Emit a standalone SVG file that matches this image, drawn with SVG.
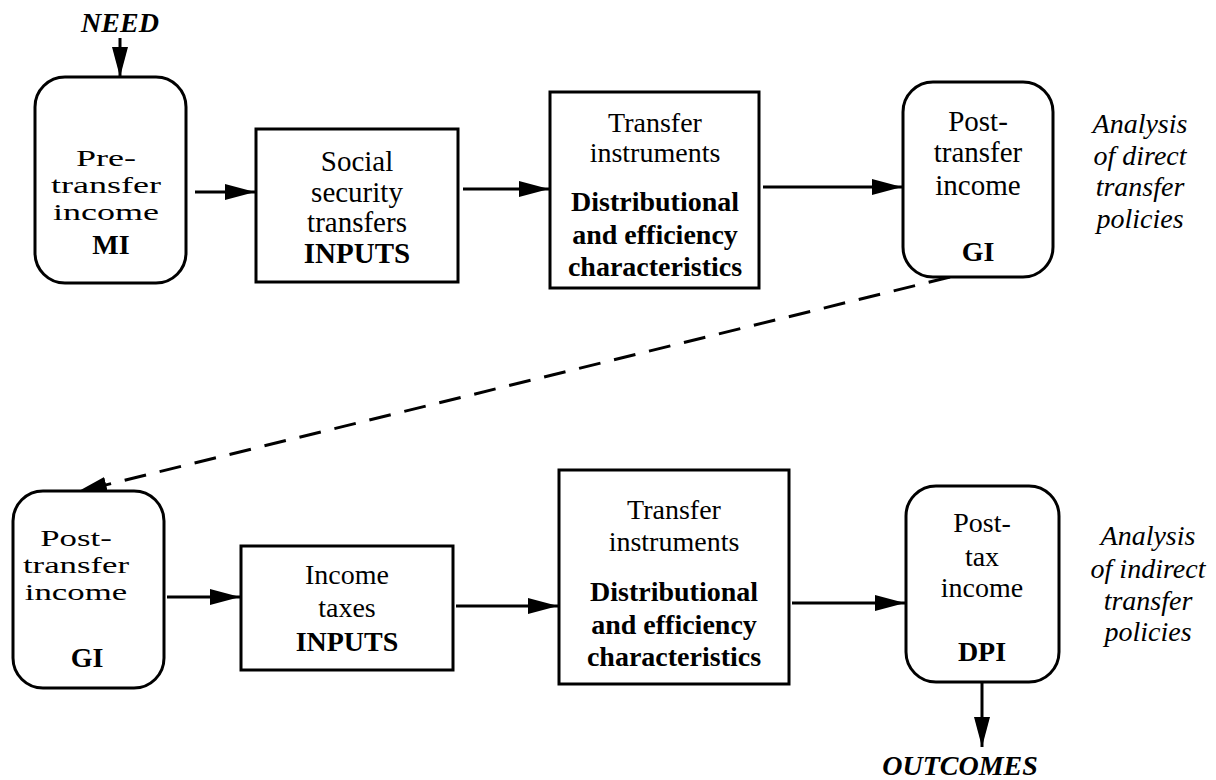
<svg xmlns="http://www.w3.org/2000/svg" width="1216" height="780" viewBox="0 0 1216 780">
<defs>
<marker id="ah" markerUnits="userSpaceOnUse" markerWidth="32" markerHeight="18" refX="30" refY="8" orient="auto">
<path d="M0,0 L30,8 L0,16 Z" fill="#000"/>
</marker>
<style>
.box{fill:#fff;stroke:#000;stroke-width:3}
.t{font-family:"Liberation Serif","Times New Roman",serif;font-size:28px;text-anchor:middle;fill:#000}
.s{font-size:24px}
.l{font-size:29px}
.b{font-weight:bold}
.i{font-style:italic}
.c{stroke:#000;stroke-width:3;fill:none;marker-end:url(#ah)}
.d{stroke-dasharray:22 14}
</style>
</defs>
<rect width="1216" height="780" fill="#fff"/>
<g id="connectors">
<line class="c" x1="120" y1="38" x2="120" y2="77"/>
<line class="c" x1="195" y1="192" x2="255" y2="192"/>
<line class="c" x1="463" y1="189" x2="549" y2="189"/>
<line class="c" x1="763" y1="187" x2="902" y2="187"/>
<line class="c d" x1="950" y1="277" x2="77" y2="492"/>
<line class="c" x1="167" y1="597" x2="240" y2="597"/>
<line class="c" x1="456" y1="606" x2="558" y2="606"/>
<line class="c" x1="792" y1="603" x2="905" y2="603"/>
<line class="c" x1="982" y1="682" x2="982" y2="747"/>
</g>
<g id="need"><text class="t b i" x="120" y="32">NEED</text></g>
<g id="pretransfer">
<rect class="box" x="35" y="77" width="151" height="206" rx="30"/>
<g transform="translate(106,0) scale(1.5,1)">
<text class="t s" x="0" y="166">Pre-</text>
<text class="t s" x="0" y="193">transfer</text>
<text class="t s" x="0" y="220">income</text>
</g>
<text class="t b" x="111" y="254">MI</text>
</g>
<g id="socialsecurity">
<rect class="box" x="256" y="129" width="202" height="153"/>
<text class="t l" x="357" y="171">Social</text>
<text class="t l" x="357" y="202">security</text>
<text class="t l" x="357" y="232">transfers</text>
<text class="t l b" x="357" y="263">INPUTS</text>
</g>
<g id="instruments1">
<rect class="box" x="550" y="92" width="209" height="196"/>
<text class="t" x="655" y="132">Transfer</text>
<text class="t" x="655" y="162">instruments</text>
<text class="t b" x="655" y="211">Distributional</text>
<text class="t b" x="655" y="244">and efficiency</text>
<text class="t b" x="655" y="276">characteristics</text>
</g>
<g id="posttransfer1">
<rect class="box" x="903" y="82" width="150" height="195" rx="30"/>
<text class="t l" x="978" y="131">Post-</text>
<text class="t l" x="978" y="162">transfer</text>
<text class="t l" x="978" y="195">income</text>
<text class="t b" x="978" y="261">GI</text>
</g>
<g id="analysis1">
<text class="t i" x="1140" y="133">Analysis</text>
<text class="t i" x="1140" y="165">of direct</text>
<text class="t i" x="1140" y="196">transfer</text>
<text class="t i" x="1140" y="228">policies</text>
</g>
<g id="posttransfer2">
<rect class="box" x="13" y="491" width="151" height="197" rx="30"/>
<g transform="translate(76,0) scale(1.45,1)">
<text class="t s" x="0" y="546">Post-</text>
<text class="t s" x="0" y="573">transfer</text>
<text class="t s" x="0" y="600">income</text>
</g>
<text class="t b" x="87" y="667">GI</text>
</g>
<g id="incometaxes">
<rect class="box" x="241" y="546" width="212" height="124"/>
<text class="t" x="347" y="584">Income</text>
<text class="t" x="347" y="617">taxes</text>
<text class="t b" x="347" y="651">INPUTS</text>
</g>
<g id="instruments2">
<rect class="box" x="559" y="470" width="230" height="214"/>
<text class="t" x="674" y="519">Transfer</text>
<text class="t" x="674" y="551">instruments</text>
<text class="t b" x="674" y="601">Distributional</text>
<text class="t b" x="674" y="634">and efficiency</text>
<text class="t b" x="674" y="666">characteristics</text>
</g>
<g id="posttax">
<rect class="box" x="906" y="486" width="153" height="196" rx="30"/>
<text class="t" x="982" y="532">Post-</text>
<text class="t" x="982" y="566">tax</text>
<text class="t" x="982" y="597">income</text>
<text class="t b" x="982" y="661">DPI</text>
</g>
<g id="analysis2">
<text class="t i" x="1148" y="545">Analysis</text>
<text class="t i" x="1148" y="578">of indirect</text>
<text class="t i" x="1148" y="610">transfer</text>
<text class="t i" x="1148" y="641">policies</text>
</g>
<g id="outcomes"><text class="t b i" x="960" y="775">OUTCOMES</text></g>
</svg>
